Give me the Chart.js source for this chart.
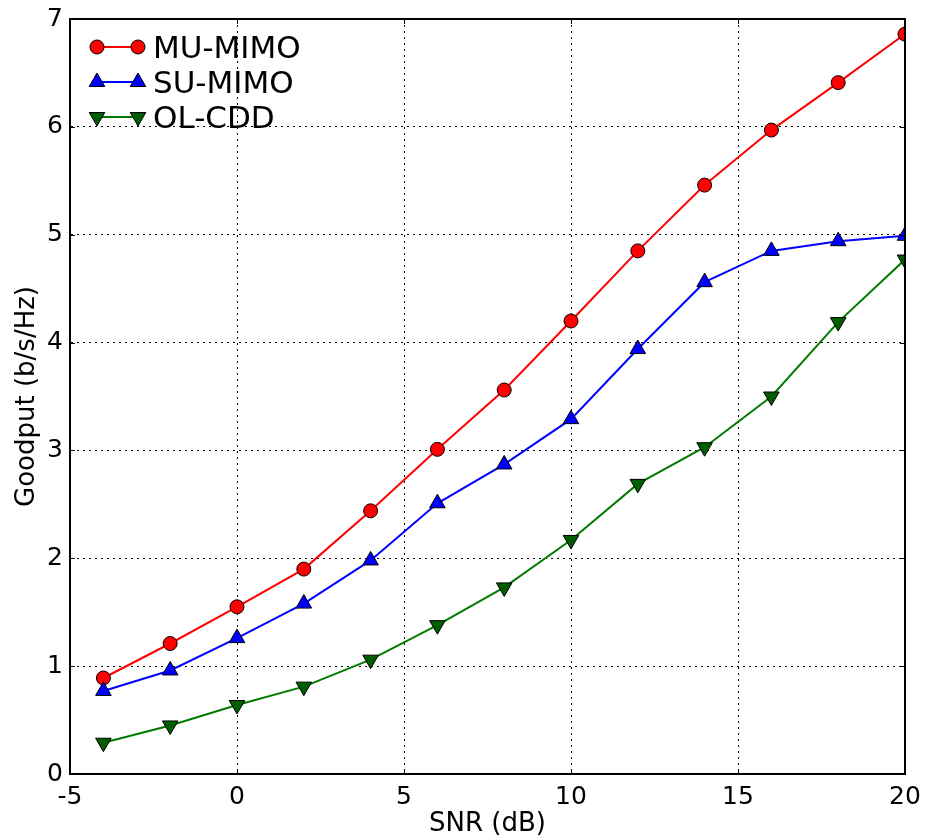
<!DOCTYPE html>
<html>
<head>
<meta charset="utf-8">
<script src="https://cdn.jsdelivr.net/npm/chart.js@4.4.1/dist/chart.umd.min.js"></script>
<style>
  html, body { margin: 0; padding: 0; background: #fff; }
</style>
</head>
<body>
<canvas id="goodputChart" width="925" height="840"></canvas>
<script>
// SNR points (dB)
const snr = [-4, -2, 0, 2, 4, 6, 8, 10, 12, 14, 16, 18, 20];

// Goodput per scheme (b/s/Hz)
const muMimo = [0.89, 1.21, 1.55, 1.90, 2.44, 3.01, 3.56, 4.20, 4.85, 5.46, 5.97, 6.41, 6.86];
const suMimo = [0.77, 0.96, 1.26, 1.58, 1.98, 2.51, 2.87, 3.29, 3.94, 4.56, 4.85, 4.94, 4.99];
const olCdd = [0.29, 0.45, 0.64, 0.81, 1.06, 1.38, 1.73, 2.17, 2.69, 3.03, 3.50, 4.19, 4.77];

const seriesNames = ["MU-MIMO", "SU-MIMO", "OL-CDD"];

const FONT = "'DejaVu Sans', 'Liberation Sans', sans-serif";

function toPoints(values) {
    return snr.map((x, i) => ({ x, y: values[i] }));
}

// Legend with a line and a marker at each end, like matplotlib
const lineLegend = {
    id: "lineLegend",
    afterDraw(chart) {
        const ctx = chart.ctx;
        const area = chart.chartArea;
        chart.data.datasets.forEach((ds, i) => {
            const y = area.top + 28 + i * 35;
            const x0 = area.left + 27;
            const x1 = x0 + 41;
            ctx.save();
            ctx.strokeStyle = ds.borderColor;
            ctx.lineWidth = ds.borderWidth;
            ctx.beginPath();
            ctx.moveTo(x0, y);
            ctx.lineTo(x1, y);
            ctx.stroke();
            ctx.fillStyle = ds.pointBackgroundColor;
            ctx.strokeStyle = ds.pointBorderColor;
            ctx.lineWidth = ds.pointBorderWidth;
            [x0, x1].forEach((x) => {
                Chart.helpers.drawPoint(ctx, {
                    pointStyle: ds.pointStyle,
                    radius: ds.pointRadius,
                    rotation: ds.pointRotation || 0,
                    borderWidth: ds.pointBorderWidth,
                }, x, y);
            });
            ctx.fillStyle = "#000";
            ctx.font = "31px " + FONT;
            ctx.textAlign = "left";
            ctx.textBaseline = "alphabetic";
            ctx.fillText(ds.label, x1 + 15, y + 11);
            ctx.restore();
        });
    },
};

// Full box around the plot and inward tick marks on all sides
const frameAndTicks = {
    id: "frameAndTicks",
    afterDatasetsDraw(chart) {
        const ctx = chart.ctx;
        const { left, right, top, bottom } = chart.chartArea;
        const xs = chart.scales.x;
        const ys = chart.scales.y;
        ctx.save();
        ctx.strokeStyle = "#000";
        ctx.lineWidth = 1;
        ctx.beginPath();
        xs.ticks.forEach((t) => {
            const px = Math.round(xs.getPixelForValue(t.value)) + 0.5;
            ctx.moveTo(px, bottom);
            ctx.lineTo(px, bottom - 5);
            ctx.moveTo(px, top);
            ctx.lineTo(px, top + 5);
        });
        ys.ticks.forEach((t) => {
            const py = Math.round(ys.getPixelForValue(t.value)) + 0.5;
            ctx.moveTo(left, py);
            ctx.lineTo(left + 5, py);
            ctx.moveTo(right, py);
            ctx.lineTo(right - 5, py);
        });
        ctx.stroke();
        ctx.lineWidth = 2;
        ctx.strokeRect(left, top, right - left, bottom - top);
        ctx.restore();
    },
};

const ctx = document.getElementById("goodputChart").getContext("2d");

new Chart(ctx, {
    type: "scatter",
    data: {
        datasets: [
            {
                label: seriesNames[0],
                data: toPoints(muMimo),
                showLine: true,
                borderColor: "#ff0000",
                borderWidth: 2,
                pointStyle: "circle",
                pointRadius: 7,
                pointBackgroundColor: "#ff0000",
                pointBorderColor: "#000",
                pointBorderWidth: 1,
                order: 3,
                clip: 0,
            },
            {
                label: seriesNames[1],
                data: toPoints(suMimo),
                showLine: true,
                borderColor: "#0000ff",
                borderWidth: 2,
                pointStyle: "triangle",
                pointRadius: 9,
                pointBackgroundColor: "#0000ff",
                pointBorderColor: "#000",
                pointBorderWidth: 1,
                order: 2,
                clip: 0,
            },
            {
                label: seriesNames[2],
                data: toPoints(olCdd),
                showLine: true,
                borderColor: "#007a00",
                borderWidth: 2,
                pointStyle: "triangle",
                pointRotation: 180,
                pointRadius: 9,
                pointBackgroundColor: "#005e00",
                pointBorderColor: "#000",
                pointBorderWidth: 1,
                order: 1,
                clip: 0,
            },
        ],
    },
    options: {
        responsive: false,
        animation: false,
        events: [],
        layout: {
            autoPadding: false,
            padding: { top: 19, right: 20, left: 0, bottom: 0 },
        },
        plugins: {
            legend: { display: false },
            tooltip: { enabled: false },
        },
        scales: {
            x: {
                type: "linear",
                min: -5,
                max: 20,
                ticks: {
                    stepSize: 5,
                    color: "#000",
                    padding: 8,
                    font: { family: FONT, size: 25 },
                },
                grid: { color: "#000", lineWidth: 1, drawTicks: false },
                border: { color: "#000", width: 2, dash: [2, 4] },
                title: {
                    display: true,
                    text: "SNR (dB)",
                    color: "#000",
                    font: { family: FONT, size: 26 },
                    padding: { top: 0, bottom: 0 },
                },
                afterFit(scale) {
                    scale.height = 66;
                    // keep edge labels from shrinking the plot area
                    scale.paddingLeft = 0;
                    scale.paddingRight = 0;
                },
            },
            y: {
                type: "linear",
                min: 0,
                max: 7,
                ticks: {
                    stepSize: 1,
                    color: "#000",
                    padding: 7,
                    font: { family: FONT, size: 25 },
                },
                grid: { color: "#000", lineWidth: 1, drawTicks: false },
                border: { color: "#000", width: 2, dash: [2, 4] },
                title: {
                    display: true,
                    text: "Goodput (b/s/Hz)",
                    color: "#000",
                    font: { family: FONT, size: 26 },
                    padding: { top: 12, bottom: 0 },
                },
                afterFit(scale) {
                    scale.width = 70;
                    scale.paddingTop = 0;
                    scale.paddingBottom = 0;
                },
            },
        },
    },
    plugins: [frameAndTicks, lineLegend],
});
</script>
</body>
</html>
